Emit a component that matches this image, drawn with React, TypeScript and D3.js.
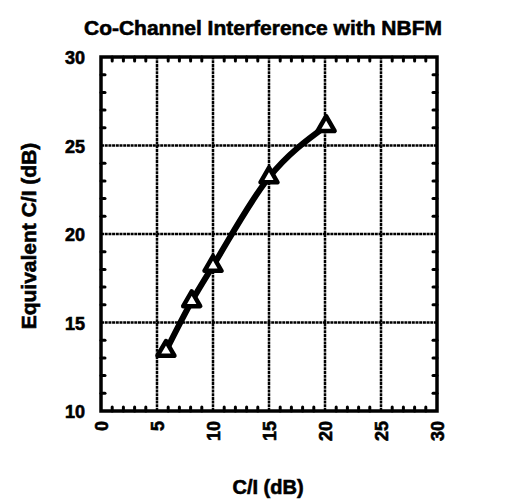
import React, { useEffect, useRef } from 'react';
import * as d3 from 'd3';

// C/I (dB) vs equivalent C/I (dB)
const ciValues = [5.8, 8.1, 10, 15, 20.1];
const equivalentCi = [13.4, 16.2, 18.2, 23.2, 26.1];
const xTicks = [0, 5, 10, 15, 20, 25, 30];
const yTicks = [10, 15, 20, 25, 30];

const width = 514;
const height = 501;
const margin = { left: 101, right: 77, top: 57, bottom: 90 };

export default function App() {
  const ref = useRef<SVGSVGElement>(null);

  useEffect(() => {
    const svg = d3.select(ref.current);
    svg.selectAll('*').remove();

    const x = d3.scaleLinear().domain([0, 30]).range([margin.left, width - margin.right]);
    const y = d3.scaleLinear().domain([10, 30]).range([height - margin.bottom, margin.top]);
    const font = 'Liberation Sans, Arial, sans-serif';

    const g = svg.append('g');

    // minor ticks, every 1 dB, on all four sides
    const minor = d3.range(0, 31).filter(d => d % 5 !== 0);
    const minorY = d3.range(10, 31).filter(d => d % 5 !== 0);
    const tl = 4;
    minor.forEach(d => {
      g.append('line').attr('x1', x(d)).attr('x2', x(d))
        .attr('y1', y(10)).attr('y2', y(10) - tl)
        .attr('stroke', '#000').attr('stroke-width', 3).attr('stroke-linecap', 'round');
      g.append('line').attr('x1', x(d)).attr('x2', x(d))
        .attr('y1', y(30)).attr('y2', y(30) + tl)
        .attr('stroke', '#000').attr('stroke-width', 3).attr('stroke-linecap', 'round');
    });
    minorY.forEach(d => {
      g.append('line').attr('x1', x(0)).attr('x2', x(0) + tl)
        .attr('y1', y(d)).attr('y2', y(d))
        .attr('stroke', '#000').attr('stroke-width', 3).attr('stroke-linecap', 'round');
      g.append('line').attr('x1', x(30)).attr('x2', x(30) - tl)
        .attr('y1', y(d)).attr('y2', y(d))
        .attr('stroke', '#000').attr('stroke-width', 3).attr('stroke-linecap', 'round');
    });

    // grid
    g.selectAll('.vgrid').data(xTicks.slice(1, -1)).enter().append('line')
      .attr('x1', d => x(d)).attr('x2', d => x(d))
      .attr('y1', y(10)).attr('y2', y(30))
      .attr('stroke', '#000').attr('stroke-width', 2.5).attr('stroke-dasharray', '3,0.7');
    g.selectAll('.hgrid').data(yTicks.slice(1, -1)).enter().append('line')
      .attr('x1', x(0)).attr('x2', x(30))
      .attr('y1', d => y(d)).attr('y2', d => y(d))
      .attr('stroke', '#000').attr('stroke-width', 2.5).attr('stroke-dasharray', '3,0.7');

    // frame
    g.append('rect')
      .attr('x', x(0)).attr('y', y(30))
      .attr('width', x(30) - x(0)).attr('height', y(10) - y(30))
      .attr('fill', 'none').attr('stroke', '#000').attr('stroke-width', 3.5);

    const boldText = (sel: any, size: number) => sel
      .attr('font-family', font).attr('font-weight', 'bold').attr('font-size', size)
      .attr('fill', '#000').attr('stroke', '#000').attr('stroke-width', 0.6);

    // tick labels
    boldText(g.selectAll('.xl').data(xTicks).enter().append('text')
      .attr('transform', d => `translate(${x(d) + 7},${y(10) + 10}) rotate(-90)`)
      .attr('text-anchor', 'end'), 18)
      .text(d => d);
    boldText(g.selectAll('.yl').data(yTicks).enter().append('text')
      .attr('x', x(0) - 16).attr('y', d => y(d) + 7)
      .attr('text-anchor', 'end'), 18)
      .text(d => d);

    // line
    const pts = ciValues.map((c, i) => [c, equivalentCi[i]] as [number, number]);
    const line = d3.line<[number, number]>().x(d => x(d[0])).y(d => y(d[1])).curve(d3.curveMonotoneX);
    g.append('path').datum(pts)
      .attr('d', line)
      .attr('fill', 'none').attr('stroke', '#000').attr('stroke-width', 6)
      .attr('stroke-linejoin', 'round');

    // markers
    const tri = d3.symbol().type(d3.symbolTriangle).size(125);
    g.selectAll('.m').data(pts).enter().append('path')
      .attr('d', tri)
      .attr('transform', d => `translate(${x(d[0])},${y(d[1])})`)
      .attr('fill', '#fff').attr('stroke', '#000').attr('stroke-width', 4.5)
      .attr('stroke-linejoin', 'round');

    // titles
    boldText(svg.append('text')
      .attr('x', 263).attr('y', 35)
      .attr('text-anchor', 'middle')
      .attr('textLength', 358).attr('lengthAdjust', 'spacingAndGlyphs'), 21)
      .text('Co-Channel Interference with NBFM');
    boldText(svg.append('text')
      .attr('transform', `translate(36,${(y(10) + y(30)) / 2 + 2}) rotate(-90)`)
      .attr('text-anchor', 'middle'), 21)
      .text('Equivalent C/I (dB)');
    boldText(svg.append('text')
      .attr('x', 268).attr('y', 494)
      .attr('text-anchor', 'middle'), 20)
      .text('C/I (dB)');
  }, []);

  return (
    <svg ref={ref} width={width} height={height}
      style={{ position: 'absolute', left: 0, top: 0, background: '#fff' }} />
  );
}
